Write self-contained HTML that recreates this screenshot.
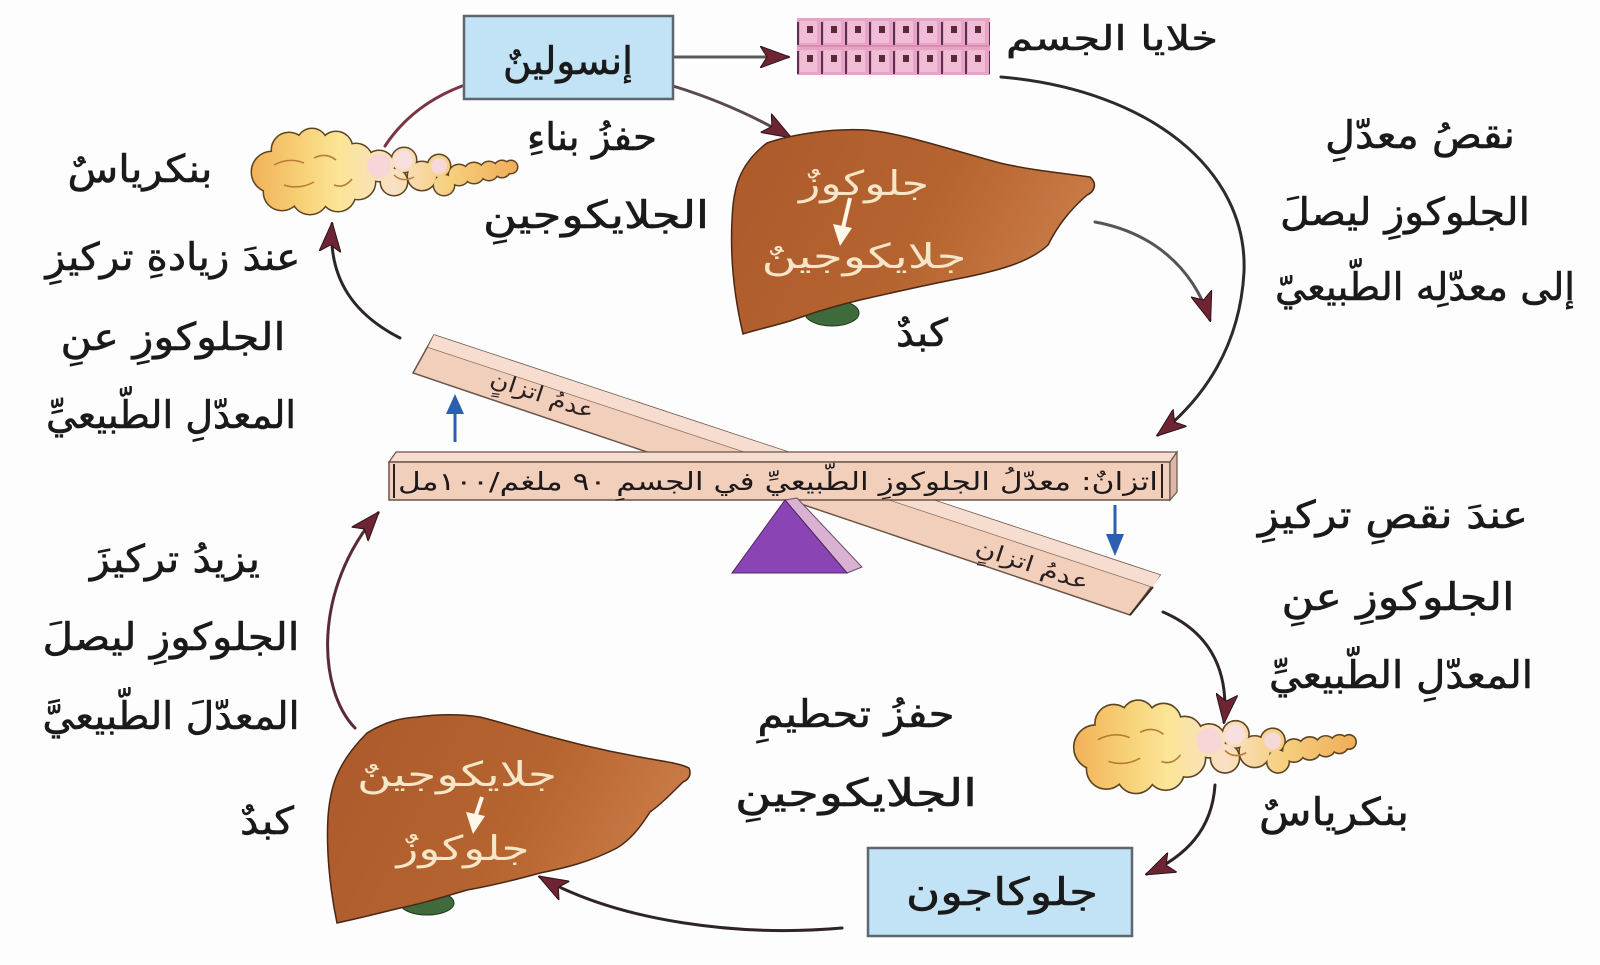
<!DOCTYPE html>
<html><head><meta charset="utf-8">
<style>
html,body{margin:0;padding:0;background:#fdfdfd;}
svg{display:block;}
text{font-family:"DejaVu Sans",sans-serif;}
</style></head>
<body>
<svg width="1600" height="965" viewBox="0 0 1600 965" xmlns="http://www.w3.org/2000/svg">
<defs>
  <marker id="ah" viewBox="0 0 30 22" refX="28" refY="11" markerWidth="30" markerHeight="22" orient="auto" markerUnits="userSpaceOnUse">
    <path d="M0,0 L30,11 L0,22 L7,11 Z" fill="#6e2433" stroke="#2a1418" stroke-width="1"/>
  </marker>
  <linearGradient id="liv" x1="0" y1="0" x2="1" y2="0.3">
    <stop offset="0" stop-color="#ac5a2c"/>
    <stop offset="0.6" stop-color="#b5632f"/>
    <stop offset="1" stop-color="#c97a45"/>
  </linearGradient>
  <linearGradient id="pg" gradientUnits="userSpaceOnUse" x1="0" y1="0" x2="272" y2="0">
    <stop offset="0" stop-color="#f0ac55"/>
    <stop offset="0.2" stop-color="#f7cf74"/>
    <stop offset="0.35" stop-color="#fbe596"/>
    <stop offset="0.55" stop-color="#f9e0c6"/>
    <stop offset="0.75" stop-color="#f6d07e"/>
    <stop offset="1" stop-color="#efae5a"/>
  </linearGradient>
  <g id="pcirc">
    <circle cx="28" cy="42" r="20"/><circle cx="45" cy="20" r="17"/><circle cx="68" cy="14" r="15"/>
    <circle cx="92" cy="18" r="16"/><circle cx="112" cy="30" r="16"/><circle cx="114" cy="52" r="17"/>
    <circle cx="94" cy="64" r="17"/><circle cx="66" cy="66" r="18"/><circle cx="38" cy="62" r="18"/>
    <circle cx="62" cy="40" r="28"/><circle cx="86" cy="42" r="22"/>
    <circle cx="135" cy="36" r="15"/><circle cx="150" cy="52" r="13"/><circle cx="160" cy="30" r="12"/>
    <circle cx="178" cy="46" r="14"/><circle cx="195" cy="36" r="11"/><circle cx="200" cy="55" r="10"/>
    <circle cx="215" cy="45" r="10"/><circle cx="230" cy="43" r="10"/><circle cx="245" cy="41" r="9"/>
    <circle cx="258" cy="39" r="8"/><circle cx="267" cy="37" r="6"/>
  </g>
  <g id="pan">
    <use href="#pcirc" fill="#e9a24c" stroke="#5d4422" stroke-width="3"/>
    <use href="#pcirc" fill="url(#pg)"/>
    <circle cx="135" cy="36" r="12" fill="#f6d6d6"/>
    <circle cx="160" cy="30" r="9" fill="#f8e0e0"/>
    <circle cx="195" cy="36" r="8" fill="#f6d8d8"/>
    <path d="M30,35 q15,-8 30,-2 M40,55 q15,5 30,-3 M70,28 q12,-6 22,2 M90,55 q10,4 18,-6 M150,45 q8,8 20,2" stroke="#b77a38" stroke-width="1.5" fill="none"/>
  </g>
  <pattern id="cells" x="797" y="18" width="24" height="29" patternUnits="userSpaceOnUse">
    <rect width="24" height="29" fill="#e7a2c4"/>
    <rect x="3" y="3" width="17" height="22" fill="#f0bcd6"/>
    <line x1="1" y1="4" x2="1" y2="27" stroke="#4a2248" stroke-width="1.8"/>
    <rect x="10" y="8" width="6" height="7" fill="#5a2a3a"/>
  </pattern>
</defs>

<rect width="1600" height="965" fill="#fdfdfd"/>

<!-- connectors -->
<g fill="none" stroke-linecap="round">
  <line x1="675" y1="57" x2="788" y2="57" stroke="#5a5a5a" stroke-width="3" marker-end="url(#ah)"/>
  <path d="M673,86 Q735,105 790,137" stroke="#5a4a4a" stroke-width="3" marker-end="url(#ah)"/>
  <path d="M385,146 Q412,105 462,86" stroke="#7a3444" stroke-width="3"/>
  <path d="M400,338 C355,315 328,280 332,224" stroke="#2e2428" stroke-width="3" marker-end="url(#ah)"/>
  <path d="M1001,77 C1150,90 1248,170 1244,272 C1240,345 1205,398 1158,435" stroke="#2e2a2a" stroke-width="3" marker-end="url(#ah)"/>
  <path d="M1095,222 C1150,232 1192,265 1210,320" stroke="#555" stroke-width="3" marker-end="url(#ah)"/>
  <path d="M1163,612 C1205,630 1230,665 1224,722" stroke="#2e2428" stroke-width="3" marker-end="url(#ah)"/>
  <path d="M1215,785 C1212,830 1186,856 1147,874" stroke="#2e2428" stroke-width="3" marker-end="url(#ah)"/>
  <path d="M842,928 C740,937 620,922 540,877" stroke="#2e2428" stroke-width="3" marker-end="url(#ah)"/>
  <path d="M355,728 C318,690 312,590 378,513" stroke="#5a2a36" stroke-width="3" marker-end="url(#ah)"/>
</g>

<!-- insulin box -->
<rect x="464" y="16" width="209" height="83" fill="#c2e3f5" stroke="#5b6670" stroke-width="2.5"/>
<text x="568" y="74" text-anchor="middle" direction="rtl" font-size="38" fill="#1a1a1a" stroke="#1a1a1a" stroke-width="0.6" textLength="130" lengthAdjust="spacingAndGlyphs">إنسولينٌ</text>

<!-- cells -->
<rect x="797" y="18" width="193" height="57" fill="url(#cells)"/>
<line x1="797" y1="46" x2="990" y2="46" stroke="#d48fb2" stroke-width="2"/>
<text x="1112" y="50" text-anchor="middle" direction="rtl" font-size="34" fill="#1a1a1a" stroke="#1a1a1a" stroke-width="0.6" textLength="212" lengthAdjust="spacingAndGlyphs">خلايا الجسم</text>

<!-- pancreas top-left -->
<g transform="translate(244,130)"><use href="#pan"/></g>
<!-- pancreas bottom-right -->
<g transform="translate(1066,702) scale(1.06,1.08)"><use href="#pan"/></g>

<!-- top liver -->
<ellipse cx="832" cy="313" rx="27" ry="13" fill="#3e6a3c" stroke="#23381f" stroke-width="1"/>
<path d="M767,143 C790,135 830,128 867,130 C900,133 935,145 1000,163 C1030,170 1060,173 1090,177 C1098,184 1094,192 1087,195 C1070,210 1058,225 1048,245 C1030,262 1000,270 967,277 C930,284 895,292 860,300 C830,307 810,314 790,321 C770,327 755,330 743,334 C735,300 730,260 732,220 C733,190 738,165 767,143 Z" fill="url(#liv)" stroke="#4a2814" stroke-width="1.5"/>
<text x="864" y="195" text-anchor="middle" direction="rtl" font-size="34" fill="#f5e6c8" textLength="130" lengthAdjust="spacingAndGlyphs">جلوكوزٌ</text>
<line x1="850" y1="198" x2="843" y2="228" stroke="#fff8ea" stroke-width="4"/>
<polygon points="833,224 852,228 840,246" fill="#fff8ea"/>
<text x="864" y="268" text-anchor="middle" direction="rtl" font-size="34" fill="#f5e6c8" textLength="205" lengthAdjust="spacingAndGlyphs">جلايكوجينٌ</text>

<!-- bottom liver -->
<ellipse cx="427" cy="903" rx="27" ry="12" fill="#3e6a3c" stroke="#23381f" stroke-width="1"/>
<path d="M367,733 C385,722 400,718 417,717 C440,714 460,714 480,717 C500,722 520,728 540,734 C570,742 600,750 640,757 C660,761 680,763 689,768 C692,775 688,780 683,782 C670,795 660,805 650,812 C640,828 630,840 617,848 C590,862 565,868 540,873 C515,880 490,886 467,890 C440,898 420,904 400,908 C380,913 360,918 337,923 C330,890 326,850 328,817 C330,790 335,765 367,733 Z" fill="url(#liv)" stroke="#4a2814" stroke-width="1.5"/>
<text x="457" y="786" text-anchor="middle" direction="rtl" font-size="34" fill="#f5e6c8" textLength="200" lengthAdjust="spacingAndGlyphs">جلايكوجينٌ</text>
<line x1="482" y1="797" x2="476" y2="815" stroke="#fff8ea" stroke-width="4"/>
<polygon points="466,812 485,816 473,834" fill="#fff8ea"/>
<text x="463" y="860" text-anchor="middle" direction="rtl" font-size="34" fill="#f5e6c8" textLength="133" lengthAdjust="spacingAndGlyphs">جلوكوزٌ</text>

<!-- tilted bar -->
<polygon points="434,335 1160,575 1130,615 413,373" fill="#f1cfbb" stroke="#6a5548" stroke-width="1.5"/>
<line x1="428" y1="347" x2="1153" y2="587" stroke="#8a7060" stroke-width="1.5"/>
<polygon points="434,335 1160,575 1153,587 428,347" fill="#f7ddd0"/>
<line x1="1130" y1="615" x2="1153" y2="587" stroke="#3a2a22" stroke-width="2"/>
<text transform="translate(540,402) rotate(18.3)" text-anchor="middle" direction="rtl" font-size="22" fill="#2a2020" textLength="108" lengthAdjust="spacingAndGlyphs">عدمُ اتزانٍ</text>
<text transform="translate(1030,572) rotate(18.3)" text-anchor="middle" direction="rtl" font-size="22" fill="#2a2020" textLength="118" lengthAdjust="spacingAndGlyphs">عدمُ اتزانٍ</text>

<!-- horizontal bar -->
<polygon points="396,452 1177,452 1170,462 389,462" fill="#f7ddd0" stroke="#6a5548" stroke-width="1.2"/>
<rect x="389" y="462" width="781" height="38" fill="#f1cfbb" stroke="#6a5548" stroke-width="1.5"/>
<polygon points="1170,462 1177,452 1177,492 1170,500" fill="#dcb7a5" stroke="#6a5548" stroke-width="1.2"/>
<line x1="394" y1="464" x2="394" y2="498" stroke="#2a2020" stroke-width="2"/>
<line x1="1162" y1="464" x2="1162" y2="498" stroke="#2a2020" stroke-width="2"/>
<text x="778" y="490" text-anchor="middle" direction="rtl" font-size="25" fill="#1e1818" textLength="760" lengthAdjust="spacingAndGlyphs">اتزانٌ: معدّلُ الجلوكوزِ الطّبيعيِّ في الجسمِ ٩٠ ملغم/١٠٠مل</text>

<!-- fulcrum -->
<polygon points="785,500 797,498 862,567 847,573" fill="#d9b2d2" stroke="#6a4a6a" stroke-width="1"/>
<polygon points="785,500 847,573 732,573" fill="#8b44b4" stroke="#4a2660" stroke-width="1"/>

<!-- blue arrows -->
<line x1="455" y1="442" x2="455" y2="410" stroke="#2b5fb0" stroke-width="3"/>
<polygon points="446,414 464,414 455,394" fill="#2b5fb0"/>
<line x1="1115" y1="505" x2="1115" y2="538" stroke="#2b5fb0" stroke-width="3"/>
<polygon points="1106,534 1124,534 1115,556" fill="#2b5fb0"/>

<!-- glucagon box -->
<rect x="868" y="848" width="264" height="88" fill="#c2e3f5" stroke="#5b6670" stroke-width="2.5"/>
<text x="1002" y="905" text-anchor="middle" direction="rtl" font-size="38" fill="#1a1a1a" stroke="#1a1a1a" stroke-width="0.6" textLength="192" lengthAdjust="spacingAndGlyphs">جلوكاجون</text>

<!-- labels -->
<g fill="#1a1a1a" stroke="#1a1a1a" stroke-width="0.6" text-anchor="middle" direction="rtl" font-size="38">
  <text x="592" y="150" textLength="130" lengthAdjust="spacingAndGlyphs">حفزُ بناءِ</text>
  <text x="596" y="228" textLength="226" lengthAdjust="spacingAndGlyphs">الجلايكوجينِ</text>

  <text x="140" y="182" textLength="145" lengthAdjust="spacingAndGlyphs">بنكرياسٌ</text>
  <text x="173" y="270" textLength="255" lengthAdjust="spacingAndGlyphs">عندَ زيادةِ تركيزِ</text>
  <text x="173" y="350" textLength="225" lengthAdjust="spacingAndGlyphs">الجلوكوزِ عنِ</text>
  <text x="171" y="428" textLength="250" lengthAdjust="spacingAndGlyphs">المعدّلِ الطّبيعيِّ</text>

  <text x="1420" y="148" textLength="190" lengthAdjust="spacingAndGlyphs">نقصُ معدّلِ</text>
  <text x="1405" y="225" textLength="250" lengthAdjust="spacingAndGlyphs">الجلوكوزِ ليصلَ</text>
  <text x="1425" y="300" textLength="300" lengthAdjust="spacingAndGlyphs">إلى معدّلِه الطّبيعيّ</text>

  <text x="922" y="346" textLength="52" lengthAdjust="spacingAndGlyphs">كبدٌ</text>

  <text x="1393" y="528" textLength="270" lengthAdjust="spacingAndGlyphs">عندَ نقصِ تركيزِ</text>
  <text x="1398" y="610" textLength="233" lengthAdjust="spacingAndGlyphs">الجلوكوزِ عنِ</text>
  <text x="1401" y="688" textLength="264" lengthAdjust="spacingAndGlyphs">المعدّلِ الطّبيعيِّ</text>

  <text x="1334" y="825" textLength="150" lengthAdjust="spacingAndGlyphs">بنكرياسٌ</text>

  <text x="856" y="727" textLength="197" lengthAdjust="spacingAndGlyphs">حفزُ تحطيمِ</text>
  <text x="856" y="806" textLength="242" lengthAdjust="spacingAndGlyphs">الجلايكوجينِ</text>

  <text x="175" y="572" textLength="170" lengthAdjust="spacingAndGlyphs">يزيدُ تركيزَ</text>
  <text x="171" y="650" textLength="257" lengthAdjust="spacingAndGlyphs">الجلوكوزِ ليصلَ</text>
  <text x="171" y="729" textLength="257" lengthAdjust="spacingAndGlyphs">المعدّلَ الطّبيعيَّ</text>

  <text x="267" y="834" textLength="54" lengthAdjust="spacingAndGlyphs">كبدٌ</text>
</g>
</svg>
</body></html>
